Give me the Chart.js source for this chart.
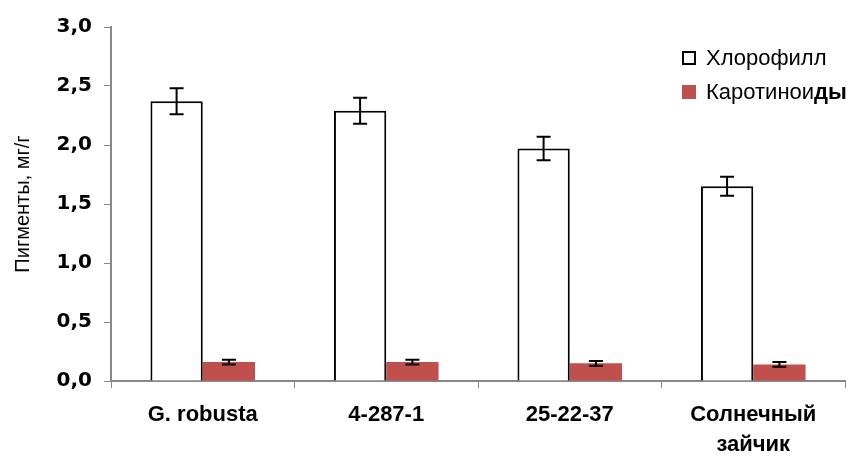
<!DOCTYPE html>
<html>
<head>
<meta charset="utf-8">
<script src="https://cdn.jsdelivr.net/npm/chart.js@4"></script>
<style>
  html,body{margin:0;padding:0;background:#fff;}
  #wrap{position:relative;width:859px;height:456px;}
  #legend{position:absolute;left:682px;top:41px;font-family:'Liberation Sans','Open Sans',sans-serif;font-size:22px;color:#000;white-space:nowrap;}
  .li{display:flex;align-items:center;height:34px;}
  .sw{width:14px;height:14px;margin-right:10px;box-sizing:border-box;}
</style>
</head>
<body>
<div id="wrap">
  <canvas id="c" width="859" height="456"></canvas>
  <div id="legend">
    <div class="li"><span class="sw" style="border:2px solid #000;background:#fff"></span>Хлорофилл</div>
    <div class="li"><span class="sw" style="background:#c0504d"></span>Каротино<span>и</span><b>ды</b></div>
  </div>
</div>
<script>
// данные
const categories=['G. robusta','4-287-1','25-22-37',['Солнечный','зайчик']];
const chloro=[2.37,2.29,1.97,1.65];
const chloroErr=[0.11,0.11,0.10,0.08];
const carot=[0.16,0.16,0.15,0.14];
const carotErr=[0.02,0.02,0.02,0.02];
const yTicks=[0,0.5,1,1.5,2,2.5,3];

const errs=[chloroErr,carotErr];

// усы погрешностей
const errorBars={
  id:'errorBars',
  afterDatasetsDraw(chart){
    const ctx=chart.ctx, y=chart.scales.y;
    chart.data.datasets.forEach((ds,di)=>{
      const meta=chart.getDatasetMeta(di);
      meta.data.forEach((bar,i)=>{
        const v=ds.data[i], e=errs[di][i];
        const top=y.getPixelForValue(v+e), bot=y.getPixelForValue(v-e);
        const x=bar.x, w=7;
        ctx.save();
        ctx.strokeStyle='#000';
        ctx.lineWidth=2;
        ctx.beginPath();
        ctx.moveTo(x,top);ctx.lineTo(x,bot);
        ctx.moveTo(x-w,top);ctx.lineTo(x+w,top);
        ctx.moveTo(x-w,bot);ctx.lineTo(x+w,bot);
        ctx.stroke();
        ctx.restore();
      });
    });
  }
};

new Chart(document.getElementById('c'),{
  type:'bar',
  data:{
    labels:categories,
    datasets:[
      {label:'Хлорофилл',data:chloro,backgroundColor:'#fff',borderColor:'#000',borderWidth:2,borderSkipped:'bottom',categoryPercentage:0.57,barPercentage:1},
      {label:'Каротиноиды',data:carot,backgroundColor:'#c0504d',borderWidth:0,categoryPercentage:0.57,barPercentage:1}
    ]
  },
  options:{
    responsive:false,
    animation:false,
    layout:{padding:{top:27,right:14,left:0,bottom:0}},
    plugins:{legend:{display:false},tooltip:{enabled:false}},
    scales:{
      x:{
        grid:{drawOnChartArea:false,color:'#888',tickLength:7,offset:true},
        border:{color:'#888',width:2},
        ticks:{color:'#000',padding:12,font:{family:"'Liberation Sans',sans-serif",size:22,weight:'bold',lineHeight:1.36},maxRotation:0},
        afterFit(s){s.height=75;}
      },
      y:{
        min:0,max:3,
        afterBuildTicks(s){s.ticks=yTicks.map(v=>({value:v}));},
        grid:{drawOnChartArea:false,color:'#888',tickLength:7},
        border:{color:'#888',width:2},
        ticks:{color:'#000',padding:12,font:{family:"'DejaVu Sans',sans-serif",size:20,weight:'bold'},
          callback:v=>v.toFixed(1).replace('.',',')},
        title:{display:true,text:'Пигменты, мг/г',color:'#000',font:{family:"'Liberation Sans',sans-serif",size:20},padding:{top:11,bottom:0}},
        afterFit(s){s.width=111;}
      }
    }
  },
  plugins:[errorBars]
});
</script>
</body>
</html>
